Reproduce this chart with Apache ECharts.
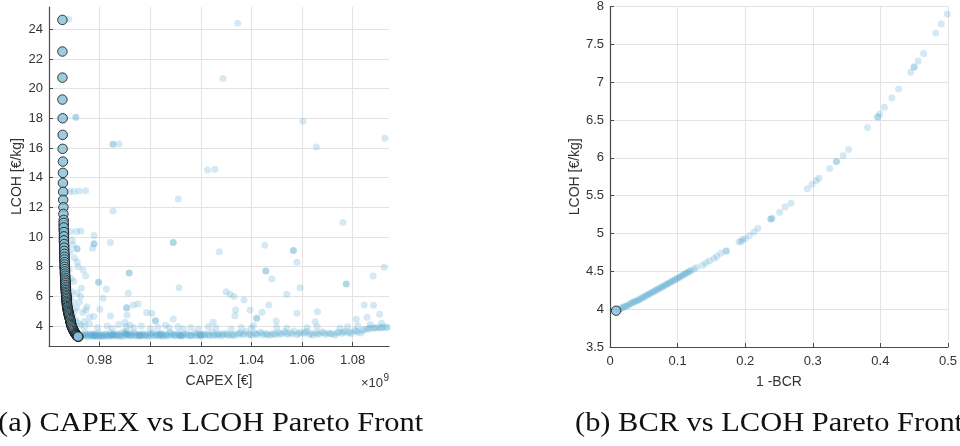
<!DOCTYPE html>
<html>
<head>
<meta charset="utf-8">
<script src="https://cdn.jsdelivr.net/npm/echarts@6/dist/echarts.min.js"></script>
<style>
html,body{margin:0;padding:0;background:#fff;}
#chart{width:960px;height:446px;}
</style>
</head>
<body>
<div id="chart"></div>
<script>
// ---------- DATA ----------
// (a) CAPEX [1e9 €] vs LCOH [€/kg]
var capexXTicks = [0.98, 1, 1.02, 1.04, 1.06, 1.08];
var capexYTicks = [4, 6, 8, 10, 12, 14, 16, 18, 20, 22, 24];
var bcrXTicks = [0, 0.1, 0.2, 0.3, 0.4, 0.5];
var bcrYTicks = [3.5, 4, 4.5, 5, 5.5, 6, 6.5, 7, 7.5, 8];

var capexPareto = [
 [0.9653,24.63],[0.9653,22.5],[0.9653,20.74],[0.9653,19.26],[0.9654,18.0],[0.9654,16.88],
 [0.9654,15.94],[0.9655,15.08],[0.9655,14.32],[0.9655,13.64],[0.9656,13.04],[0.9656,12.5],
 [0.9657,12.0],[0.9657,11.55],[0.9658,11.15],[0.9658,10.8],[0.9658,10.48],[0.9659,10.18],
 [0.9659,9.9],[0.9659,9.64],[0.966,9.4],[0.966,9.17],[0.966,8.96],[0.9661,8.76],[0.9661,8.57],
 [0.9661,8.39],[0.9662,8.22],[0.9662,8.06],[0.9662,7.9],[0.9663,7.75],[0.9663,7.6],[0.9663,7.46],
 [0.9664,7.32],[0.9664,7.19],[0.9664,7.06],[0.9665,6.94],[0.9665,6.82],[0.9666,6.7],[0.9666,6.58],
 [0.9666,6.47],[0.9667,6.36],[0.9667,6.25],[0.9668,6.15],[0.9668,6.05],[0.9669,5.95],[0.9669,5.85],
 [0.967,5.75],[0.967,5.66],[0.9671,5.57],[0.9671,5.48],[0.9671,5.39],[0.9672,5.3],[0.9673,5.22],
 [0.9674,5.14],[0.9675,5.06],[0.9676,4.98],[0.9677,4.9],[0.9678,4.82],[0.9679,4.74],[0.968,4.66],
 [0.9681,4.58],[0.9683,4.5],[0.9684,4.42],[0.9685,4.34],[0.9686,4.26],[0.9687,4.18],[0.9688,4.1],
 [0.9689,4.02],[0.9691,3.94],[0.9693,3.86],[0.9695,3.78],[0.9697,3.7],[0.97,3.62],[0.9702,3.55],
 [0.9704,3.49],[0.9706,3.44],[0.9708,3.4],[0.971,3.36],[0.9712,3.32],[0.9714,3.29],[0.9716,3.27],
 [0.9658,10.95],[0.9658,10.64],[0.9659,10.33],[0.9659,10.04],[0.9659,9.77],[0.966,9.52],
 [0.966,9.28],[0.966,9.06],[0.9661,8.86],[0.9661,8.66],[0.9661,8.48],[0.9662,8.3],
 [0.9662,8.14],[0.9662,7.98],[0.9663,7.83],[0.9663,7.68],[0.9663,7.53],[0.9664,7.39],[0.9664,7.25],
 [0.9664,7.12],[0.9665,7.0],[0.9665,6.88],[0.9665,6.76],[0.9666,6.64],[0.9666,6.52],[0.9667,6.41],
 [0.9667,6.3],[0.9667,6.2],[0.9668,6.1],[0.9668,6.0],[0.9669,5.9],[0.9669,5.8],[0.967,5.7],
 [0.967,5.61],[0.9671,5.52],[0.9671,5.43],[0.9672,5.34],[0.9672,5.26],[0.9673,5.18],[0.9674,5.1],
 [0.9675,5.02],[0.9676,4.94],[0.9677,4.86],[0.9678,4.78],[0.9679,4.7],[0.968,4.62],[0.9682,4.54],
 [0.9683,4.46],[0.9684,4.38],[0.9685,4.3],[0.9686,4.22],[0.9687,4.14],[0.9688,4.06],[0.969,3.98],
 [0.9692,3.9],[0.9694,3.82],[0.9696,3.74],[0.9698,3.66],[0.9701,3.58],[0.9703,3.52],[0.9705,3.46],
 [0.9707,3.42],[0.9709,3.38],[0.9711,3.34],[0.9713,3.3],[0.9715,3.28]
];

var capexCloud = [
 // lower band
 [0.9718,3.32],[0.9725,3.45],[0.9731,3.30],[0.9738,3.38],[0.9742,3.52],[0.9748,3.31],[0.9753,3.41],
 [0.9757,3.29],[0.9762,3.47],[0.9768,3.35],[0.9772,3.30],[0.9777,3.44],[0.9781,3.33],[0.9786,3.38],
 [0.9790,3.29],[0.9795,3.50],[0.9799,3.34],[0.9804,3.31],[0.9809,3.42],[0.9813,3.36],[0.9818,3.30],
 [0.9823,3.46],[0.9827,3.33],[0.9833,3.39],[0.9838,3.30],[0.9843,3.55],[0.9848,3.34],[0.9853,3.41],
 [0.9859,3.31],[0.9864,3.37],[0.9869,3.48],[0.9874,3.32],[0.9880,3.40],[0.9886,3.35],[0.9891,3.58],
 [0.9896,3.31],[0.9902,3.44],[0.9906,3.62],[0.9911,3.36],[0.9917,3.49],[0.9922,3.33],[0.9928,3.41],
 [0.9934,3.52],[0.9940,3.35],[0.9946,3.30],[0.9952,3.45],[0.9958,3.38],[0.9965,3.32],[0.9971,3.50],
 [0.9978,3.36],[0.9985,3.42],[0.9992,3.31],[0.9998,3.47],[1.0005,3.36],[1.0012,3.55],[1.0018,3.33],
 [1.0026,3.44],[1.0033,3.38],[1.0041,3.30],[1.0048,3.49],[1.0055,3.36],[1.0062,3.42],[1.0070,3.33],
 [1.0078,3.58],[1.0085,3.39],[1.0093,3.45],[1.0100,3.34],[1.0108,3.51],[1.0115,3.37],[1.0124,3.30],
 [1.0132,3.46],[1.0141,3.35],[1.0150,3.41],[1.0158,3.33],[1.0167,3.38],[1.0175,3.52],[1.0184,3.34],
 [1.0192,3.45],[1.0201,3.31],[1.0209,3.40],[1.0218,3.36],[1.0228,3.48],[1.0237,3.34],[1.0246,3.57],
 [1.0255,3.42],[1.0264,3.37],[1.0272,3.46],[1.0281,3.33],[1.0290,3.40],[1.0300,3.50],[1.0310,3.36],
 [1.0322,3.44],[1.0333,3.38],[1.0345,3.49],[1.0356,3.55],[1.0366,3.41],[1.0378,3.62],[1.0389,3.45],
 [1.0401,3.37],[1.0412,3.53],[1.0423,3.42],[1.0435,3.58],[1.0447,3.39],[1.0458,3.48],[1.0470,3.35],
 [1.0482,3.44],[1.0494,3.40],[1.0506,3.56],[1.0518,3.47],[1.0531,3.61],[1.0543,3.43],[1.0556,3.52],
 [1.0569,3.66],[1.0581,3.41],[1.0593,3.57],[1.0606,3.49],[1.0618,3.63],[1.0630,3.45],[1.0643,3.38],
 [1.0655,3.55],[1.0668,3.47],[1.0680,3.60],[1.0693,3.42],[1.0706,3.52],[1.0719,3.46],[1.0731,3.38],
 [1.0744,3.58],[1.0757,3.50],[1.0769,3.62],[1.0782,3.55],[1.0795,3.48],[1.0808,3.69],[1.0820,3.60],
 [1.0833,3.52],[1.0846,3.75],[1.0858,3.82],[1.0871,3.88],[1.0883,3.84],[1.0896,3.90],[1.0908,3.86],
 [1.0920,3.93],[1.0933,3.89],
 // second layer of the band
 [0.9721,3.38],[0.9734,3.34],[0.9745,3.43],[0.9759,3.36],[0.9770,3.40],[0.9783,3.47],[0.9797,3.37],
 [0.9811,3.32],[0.9825,3.40],[0.9840,3.36],[0.9856,3.45],[0.9871,3.38],[0.9884,3.31],[0.9899,3.52],
 [0.9913,3.41],[0.9926,3.37],[0.9942,3.46],[0.9956,3.34],[0.9969,3.40],[0.9982,3.33],[0.9995,3.39],
 [1.0009,3.44],[1.0022,3.37],[1.0037,3.48],[1.0051,3.33],[1.0066,3.38],[1.0081,3.44],[1.0096,3.36],
 [1.0112,3.42],[1.0128,3.38],[1.0145,3.47],[1.0162,3.35],[1.0180,3.41],[1.0197,3.37],[1.0214,3.44],
 [1.0232,3.39],[1.0250,3.35],[1.0268,3.41],[1.0286,3.47],[1.0305,3.40],[1.0327,3.36],[1.0350,3.43],
 [1.0372,3.48],[1.0395,3.42],[1.0418,3.46],[1.0441,3.51],[1.0464,3.44],[1.0488,3.50],[1.0512,3.45],
 [1.0537,3.52],[1.0562,3.46],[1.0587,3.50],[1.0612,3.55],[1.0637,3.50],[1.0662,3.44],[1.0687,3.52],
 [1.0712,3.47],[1.0737,3.54],[1.0762,3.57],[1.0789,3.60],[1.0814,3.65],[1.0839,3.70],[1.0864,3.80],
 [1.0889,3.87],[1.0914,3.88],[1.0938,3.92],
 // just above the band
 [0.9725,4.05],[0.9740,3.95],[0.9760,4.15],[0.9792,3.90],[0.9830,4.00],[0.9850,3.85],[0.9875,4.10],
 [0.9900,4.25],[0.9905,3.95],[0.9920,4.05],[0.9935,3.88],[0.9965,4.00],[1.0000,3.85],[1.0030,3.92],
 [1.0060,4.05],[1.0075,3.88],[1.0110,3.95],[1.0130,3.82],[1.0160,3.90],[1.0190,3.80],[1.0230,3.95],
 [1.0260,3.86],[1.0320,3.78],[1.0360,3.90],[1.0400,3.84],[1.0500,3.92],[1.0540,3.86],[1.0620,3.88],
 [1.0660,3.94],[1.0750,3.86],[1.0780,3.95],[1.0820,4.02],[1.0870,4.10],[1.0915,4.18],
 // scattered
 [1.0249,4.25],[1.0498,4.34],[1.0652,4.29],[1.0408,4.02],[1.0815,4.45],[1.0857,4.59],[1.0907,4.79],
 [1.0846,5.42],[1.0883,5.39],[1.0661,4.96],[1.0580,4.86],[1.0442,4.92],[1.0469,5.42],
 [1.0395,5.08],[1.0335,4.69],[1.0338,5.08],[1.0540,6.14],[1.0371,5.75],[1.0331,5.98],[1.0316,6.14],
 [1.0300,6.31],[1.0881,7.37],[1.0925,7.96],[1.0593,6.58],[1.0481,7.17],[1.0580,8.29],
 [1.0273,9.01],[1.0453,9.44],[1.0762,10.97],
 [1.0346,24.41],[1.0288,20.68],[1.0604,17.8],[1.0657,16.07],[1.0928,16.66],[1.0227,14.52],[1.0256,14.57],
 [0.9678,24.68],[0.9877,16.27],[0.9682,13.06],[0.9698,13.06],[0.9719,13.1],[0.9745,13.12],
 [1.0111,12.56],[0.9853,11.75],[0.9709,10.36],[0.9726,10.4],[0.9686,10.36],[0.9778,10.09],
 [0.9843,9.62],[0.9772,9.24],[0.9695,9.46],[0.9712,8.32],[0.9735,7.78],[0.9745,7.39],
 [0.9827,6.5],[1.0114,6.58],[0.9698,6.99],[0.9728,6.54],[0.9711,6.2],[0.9814,5.87],[0.9913,6.2],
 [0.9952,5.48],[0.9933,5.42],[0.9709,5.23],[0.9745,5.08],[0.9801,5.13],[0.9777,4.63],[0.9843,4.67],
 [0.9909,4.74],[0.9986,4.9],[1.0006,4.86],[1.0091,4.47],
 [0.9680,7.8],[0.9688,7.2],[0.9676,6.6],[0.9690,6.3],[0.9684,5.9],[0.9695,5.6],[0.9682,5.3],
 [0.9700,5.0],[0.9692,4.7],[0.9705,4.4],[0.9715,4.2],[0.9700,8.6],[0.9715,8.0],[0.9683,9.0],
 [0.9692,9.8],[0.9720,5.6],[0.9733,4.9],[0.9725,6.0],[0.9750,5.3],[0.9760,4.6],[0.9740,4.3]
];

var capexCloudDark = [
 [1.0566,9.08],[0.9778,9.55],[1.0457,7.71],[0.9917,7.57],[0.9796,6.95],[1.0091,9.62],
 [0.9853,16.25],[0.9706,18.07],[1.0421,4.52],[0.9907,5.23],[1.0775,6.83],[0.9711,9.21],[1.0021,4.36],
 [0.9780,3.36],[0.9850,3.40],[0.9905,3.45],[0.9960,3.38],[1.0040,3.42],[1.0120,3.36],[1.0200,3.40]
];

// (b) 1-BCR vs LCOH [€/kg]
var bcrPareto = [[0.009,3.98]];
var bcrCloud = [
 [0.012,3.99],[0.016,4.01],[0.020,4.03],[0.024,4.04],[0.028,4.06],[0.032,4.08],[0.036,4.10],
 [0.040,4.11],[0.044,4.13],[0.048,4.15],[0.052,4.17],[0.056,4.19],[0.060,4.21],[0.064,4.23],
 [0.068,4.25],[0.072,4.27],[0.076,4.29],[0.080,4.31],[0.084,4.33],[0.088,4.35],[0.092,4.37],
 [0.096,4.39],[0.100,4.41],[0.104,4.43],[0.108,4.45],[0.112,4.47],[0.116,4.49],[0.120,4.51],
 [0.124,4.53],[0.128,4.55],
 [0.137,4.58],[0.142,4.61],[0.147,4.64],[0.154,4.67],[0.158,4.70],[0.164,4.74],[0.172,4.77],
 [0.191,4.89],[0.194,4.89],[0.196,4.92],[0.200,4.93],[0.206,4.97],[0.213,5.02],[0.219,5.07],
 [0.238,5.19],[0.240,5.20],[0.251,5.28],[0.259,5.35],[0.268,5.40],[0.292,5.59],[0.299,5.65],
 [0.305,5.70],[0.309,5.73],[0.325,5.86],[0.335,5.95],[0.345,6.03],[0.353,6.11],[0.381,6.40],
 [0.396,6.54],[0.399,6.58],[0.406,6.67],[0.417,6.79],[0.427,6.91],[0.445,7.13],[0.450,7.20],
 [0.456,7.28],[0.464,7.38],[0.482,7.65],[0.490,7.77],[0.499,7.90]
];
var bcrCloudDense = [
 [0.014,4.00],[0.018,4.02],[0.022,4.035],[0.026,4.05],[0.030,4.07],[0.034,4.09],[0.038,4.105],
 [0.042,4.12],[0.046,4.14],[0.050,4.16],[0.054,4.18],[0.058,4.20],[0.062,4.22],[0.066,4.24],
 [0.070,4.26],[0.074,4.28],[0.078,4.30],[0.082,4.32],[0.086,4.34],[0.090,4.36],[0.094,4.38],
 [0.098,4.40],[0.102,4.42],[0.106,4.44],[0.110,4.46],[0.114,4.48],[0.118,4.50],
 [0.172,4.77],[0.238,5.19],[0.335,5.95],[0.396,6.54],[0.450,7.20]
];

// ---------- STYLE ----------
var AXIS = '#4a4a4a', GRID = '#e3e3e3', TXT = '#333333';
var SANS = '"Liberation Sans", Arial, Helvetica, sans-serif';
var SERIF = '"Liberation Serif", "Times New Roman", serif';
var CLOUD = 'rgba(90,170,208,0.33)';
var CLOUD_DARK = 'rgba(90,170,208,0.6)';
var FRONT = '#86BFD6';

function fmt(v){ return String(+(+v).toFixed(4)); }

function axisCommon(){
  return {
    axisLine:{show:true, onZero:false, lineStyle:{color:AXIS, width:1.2}},
    axisTick:{show:true, inside:true, length:4, lineStyle:{color:AXIS}},
    axisLabel:{color:TXT, fontSize:13, fontFamily:SANS, formatter:fmt},
    splitLine:{show:true, lineStyle:{color:GRID, width:1}},
    nameTextStyle:{color:TXT, fontSize:14, fontFamily:SANS},
    nameLocation:'middle'
  };
}
function mk(extra){ var a = axisCommon(); for (var k in extra){ if (typeof extra[k]==='object' && a[k] && !Array.isArray(extra[k])) { for (var j in extra[k]) a[k][j]=extra[k][j]; } else a[k]=extra[k]; } return a; }

var chart = echarts.init(document.getElementById('chart'), null, {renderer:'canvas'});
chart.setOption({
  animation:false,
  backgroundColor:'#ffffff',
  grid:[
    {left:49, top:7, width:340, height:339, containLabel:false},
    {left:610, top:6, width:340, height:341, containLabel:false}
  ],
  xAxis:[
    mk({gridIndex:0, type:'value', min:0.96, max:1.0944, name:'CAPEX [€]', nameGap:28,
        axisLabel:{customValues:capexXTicks, margin:8}, axisTick:{customValues:capexXTicks}}),
    mk({gridIndex:1, type:'value', min:0, max:0.5, interval:0.1, name:'1 -BCR', nameGap:28,
        axisLabel:{margin:8}})
  ],
  yAxis:[
    mk({gridIndex:0, type:'value', min:2.65, max:25.5, name:'LCOH [€/kg]', nameGap:25,
        axisLabel:{customValues:capexYTicks, margin:6}, axisTick:{customValues:capexYTicks}}),
    mk({gridIndex:1, type:'value', min:3.5, max:8, interval:0.5, name:'LCOH [€/kg]', nameGap:28,
        axisLabel:{margin:6}})
  ],
  series:[
    {type:'scatter', xAxisIndex:0, yAxisIndex:0, data:capexCloud, symbolSize:7,
     itemStyle:{color:CLOUD}, silent:true, z:2},
    {type:'scatter', xAxisIndex:0, yAxisIndex:0, data:capexCloudDark, symbolSize:7,
     itemStyle:{color:CLOUD_DARK}, silent:true, z:2},
    {type:'scatter', xAxisIndex:0, yAxisIndex:0, data:capexPareto, symbolSize:9.5,
     itemStyle:{color:FRONT, borderColor:'#111', borderWidth:1}, silent:true, z:3},
    {type:'scatter', xAxisIndex:1, yAxisIndex:1, data:bcrCloud, symbolSize:7,
     itemStyle:{color:CLOUD}, silent:true, z:2},
    {type:'scatter', xAxisIndex:1, yAxisIndex:1, data:bcrCloudDense, symbolSize:7,
     itemStyle:{color:CLOUD}, silent:true, z:2},
    {type:'scatter', xAxisIndex:1, yAxisIndex:1, data:bcrPareto, symbolSize:9.5,
     itemStyle:{color:FRONT, borderColor:'#111', borderWidth:1}, silent:true, z:3}
  ],
  graphic:[
    {type:'text', x:383, y:383, style:{text:'×10', fill:TXT, font:'13px '+SANS, align:'right', verticalAlign:'middle'}},
    {type:'text', x:383.5, y:378, style:{text:'9', fill:TXT, font:'10px '+SANS, align:'left', verticalAlign:'middle'}},
    {type:'text', x:-2, y:424, scaleX:1.087, style:{text:'(a) CAPEX vs LCOH Pareto Front', fill:'#111', font:'28px '+SERIF, align:'left', verticalAlign:'middle'}},
    {type:'text', x:575, y:424, scaleX:1.087, style:{text:'(b) BCR vs LCOH Pareto Front', fill:'#111', font:'28px '+SERIF, align:'left', verticalAlign:'middle'}}
  ]
});
</script>
</body>
</html>
